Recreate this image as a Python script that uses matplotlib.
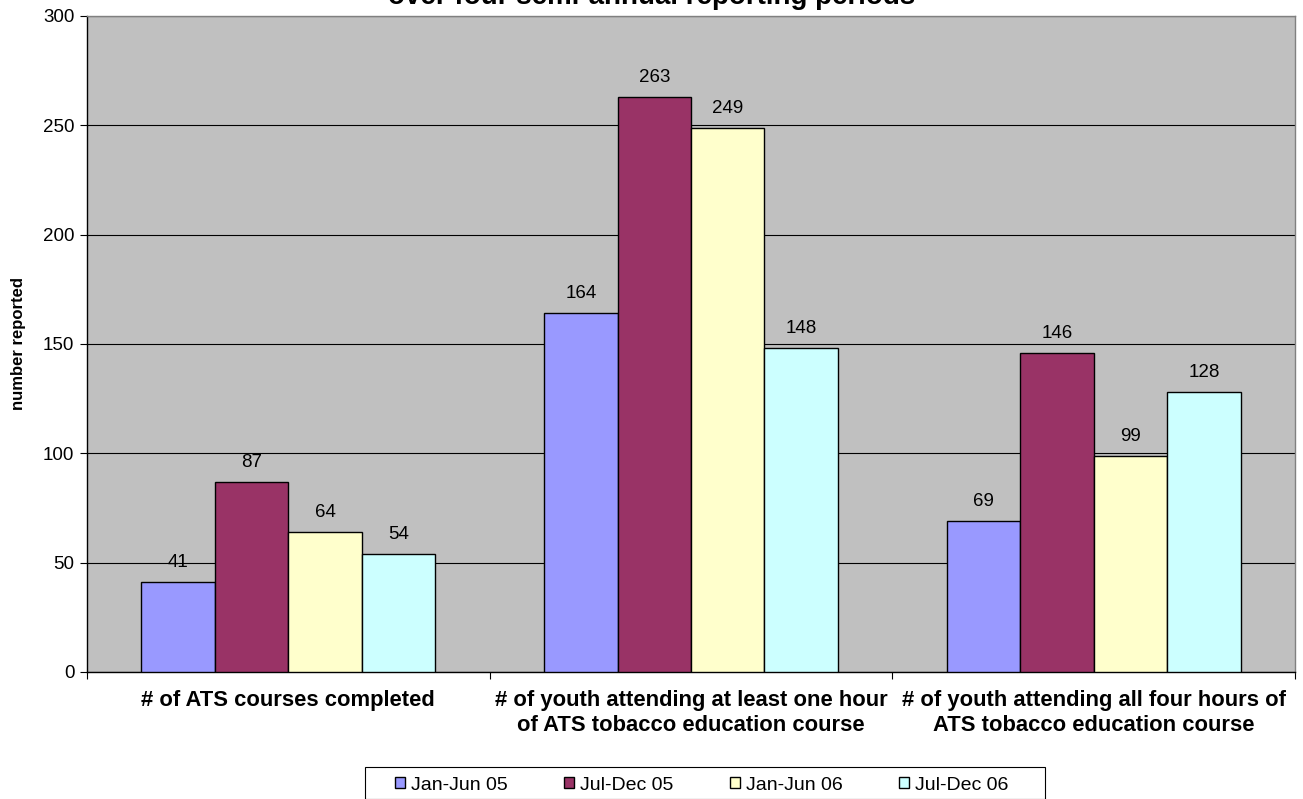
import matplotlib
matplotlib.use("Agg")
import matplotlib.pyplot as plt
from matplotlib.patches import Rectangle
import numpy as np

plt.rcParams['font.family'] = ['Liberation Sans', 'DejaVu Sans']

categories = ["# of ATS courses completed",
              "# of youth attending at least one hour\nof ATS tobacco education course",
              "# of youth attending all four hours of\nATS tobacco education course"]
periods = ["Jan-Jun 05", "Jul-Dec 05", "Jan-Jun 06", "Jul-Dec 06"]
jan_jun_05 = [41, 164, 69]
jul_dec_05 = [87, 263, 146]
jan_jun_06 = [64, 249, 99]
jul_dec_06 = [54, 148, 128]
series = [jan_jun_05, jul_dec_05, jan_jun_06, jul_dec_06]
colors = ["#9999FF", "#993366", "#FFFFCC", "#CCFFFF"]

W, H = 1303, 799
fig = plt.figure(figsize=(W/100, H/100), dpi=100)
ax = fig.add_axes([87/W, 1-672/H, (1295-87)/W, (672-16)/H])
ax.set_facecolor("#C0C0C0")

x = np.arange(len(categories))
width = 0.1825
for i, (vals, col, lab) in enumerate(zip(series, colors, periods)):
    pos = x + (i - 1.5) * width
    bars = ax.bar(pos, vals, width, color=col, edgecolor="black", linewidth=1.0,
                  label=lab, zorder=3)
    for b, v in zip(bars, vals):
        ax.text(b.get_x() + b.get_width()/2, v + 5, str(v), ha="center",
                va="bottom", fontsize=13.5, zorder=4)

ax.set_xlim(-0.5, 2.5)
ax.set_ylim(0, 300)
ax.set_yticks(range(0, 301, 50))
ax.yaxis.grid(True, color="black", linewidth=0.8, zorder=1)
ax.tick_params(axis="y", labelsize=13.5, direction="out", length=5, width=0.8, pad=4)
ax.set_xticks([-0.5, 0.5, 1.5, 2.5])
ax.set_xticklabels([])
ax.set_xticks(x, minor=True)
ax.set_xticklabels(categories, minor=True, fontsize=15.8, fontweight="bold",
                   linespacing=1.25)
ax.tick_params(axis="x", which="minor", length=0, pad=13)
ax.tick_params(axis="x", which="major", length=5, width=0.8, direction="out")
for s in ax.spines.values():
    s.set_color("#808080")
    s.set_linewidth(1.0)
ax.spines["left"].set_color("black")
ax.spines["bottom"].set_color("black")

ax.set_ylabel("number reported", fontsize=12, fontweight="bold", labelpad=12)

fig.text(0.5, 1 - 4.5/H, "over four semi-annual reporting periods", ha="center",
         va="baseline", fontsize=20, fontweight="bold")

# legend entries without their own frame; the box is drawn separately
leg = fig.legend(loc="center left", bbox_to_anchor=(395/W, 1-785/H), ncol=4,
                 fontsize=14, frameon=False,
                 handlelength=0.52, handleheight=0.52, handletextpad=0.3,
                 columnspacing=2.9, borderpad=0, borderaxespad=0)
fig.patches.append(Rectangle((365/W, 0), (1045-365)/W, (H-767)/H,
                             transform=fig.transFigure, fill=False,
                             edgecolor="black", linewidth=0.8))

fig.savefig("out.png", dpi=100)
